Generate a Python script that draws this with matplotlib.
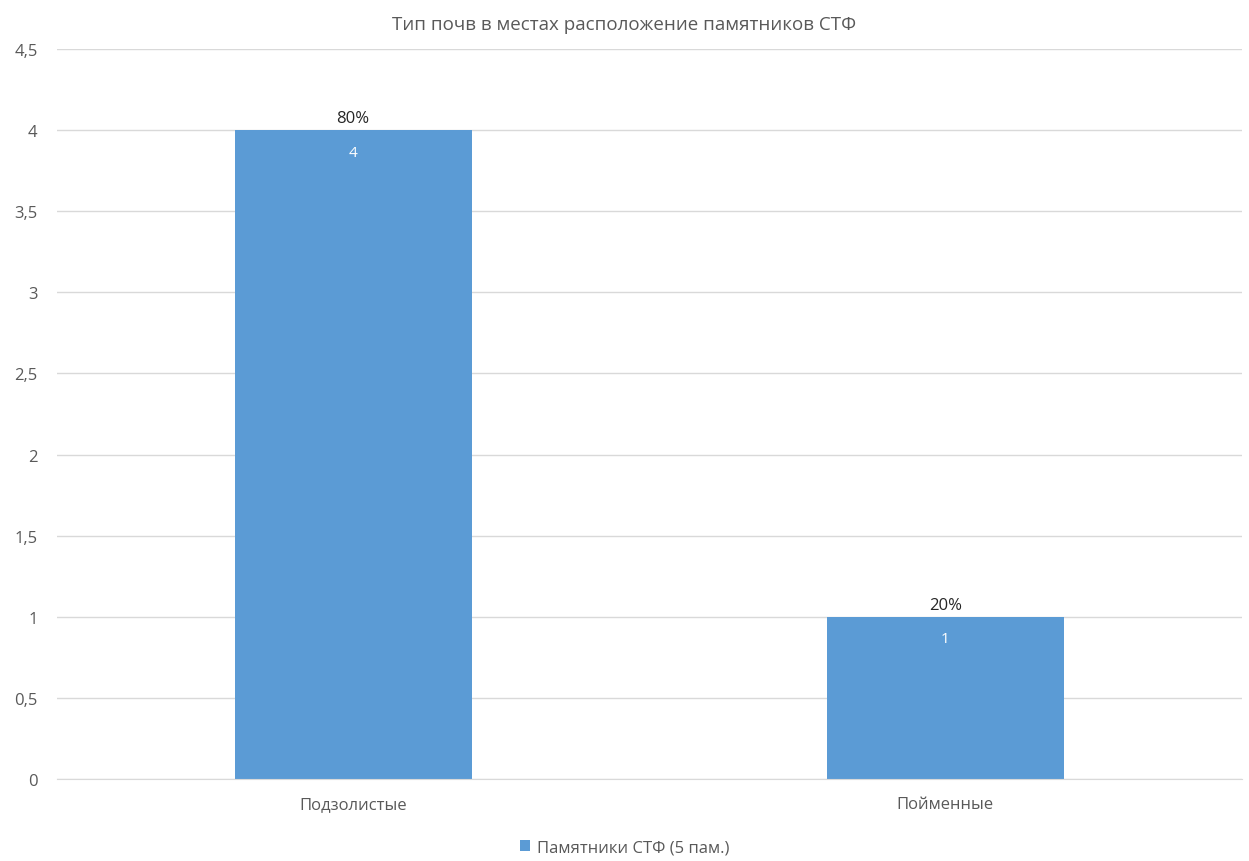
import matplotlib
matplotlib.use("Agg")
import matplotlib.pyplot as plt

categories = ["Подзолистые", "Пойменные"]
values = [4, 1]
percent_labels = ["80%", "20%"]
series_name = "Памятники СТФ (5 пам.)"
title = "Тип почв в местах расположение памятников СТФ"
yticks = [0, 0.5, 1, 1.5, 2, 2.5, 3, 3.5, 4, 4.5]

plt.rcParams['font.family'] = ['Open Sans', 'DejaVu Sans']

bar_color = '#5B9BD5'
text_grey = '#595959'

fig = plt.figure(figsize=(12.49, 8.62), dpi=100)
ax = fig.add_axes([0.0456, 0.0951, 0.9484, 0.847])

x = list(range(len(categories)))
bars = ax.bar(x, values, width=0.4, color=bar_color, zorder=2, label=series_name)

ax.set_xlim(-0.5, len(categories) - 0.5)
ax.set_ylim(0, 4.5)
ax.set_yticks(yticks)
ax.set_yticklabels([str(t).replace('.', ',') if t != int(t) else str(int(t)) for t in yticks])
ax.set_xticks(x)
ax.set_xticklabels(categories)
ax.tick_params(axis='both', length=0, colors=text_grey, labelsize=12)
ax.tick_params(axis='x', pad=12)
ax.tick_params(axis='y', pad=14)
ax.grid(axis='y', color='#d9d9d9', linewidth=1, zorder=0)
for s in ['top', 'right', 'left']:
    ax.spines[s].set_visible(False)
ax.spines['bottom'].set_color('#d9d9d9')

for xi, v, p in zip(x, values, percent_labels):
    ax.annotate(p, (xi, v), xytext=(0, 3), textcoords='offset points',
                ha='center', va='bottom', fontsize=12, color='#262626')
    ax.annotate(str(v), (xi, v), xytext=(0, -16), textcoords='offset points',
                ha='center', va='center', fontsize=11, color='white')

fig.text(0.5, 0.971, title, ha='center', va='center', fontsize=13.5, color=text_grey)

leg = fig.legend(handles=[bars], labels=[series_name], loc='center',
                 bbox_to_anchor=(0.5, 0.016), frameon=False, fontsize=12,
                 handlelength=0.6, handleheight=0.6, handletextpad=0.4)
for t in leg.get_texts():
    t.set_color(text_grey)

fig.savefig('out.png', dpi=100)
